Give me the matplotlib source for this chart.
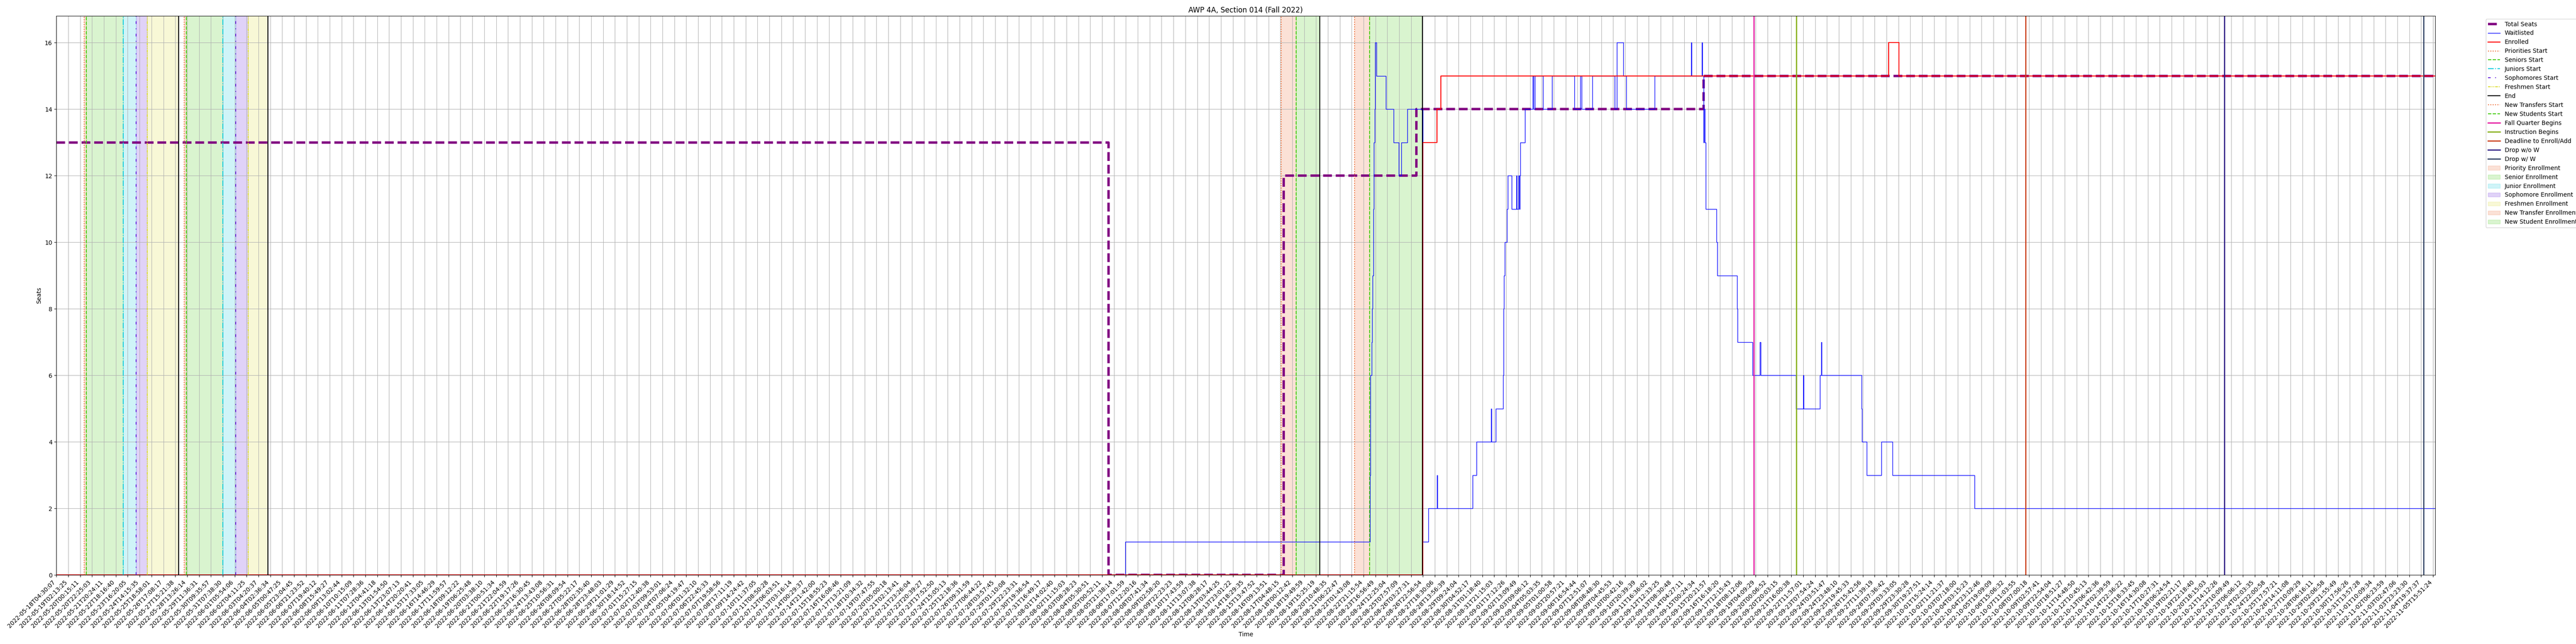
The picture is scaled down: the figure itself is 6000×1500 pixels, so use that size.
import matplotlib
matplotlib.use("Agg")
import matplotlib.pyplot as plt

# Time axis is categorical: one labelled tick every N samples.
# All x values below are in tick units (tick k sits at x = k).
tick_labels = [
    "2022-05-18T04:30:07", "2022-05-19T02:13:25", "2022-05-20T00:15:11", "2022-05-20T22:25:03",
    "2022-05-21T20:24:11", "2022-05-22T18:16:40", "2022-05-23T16:20:05", "2022-05-24T14:15:35",
    "2022-05-25T18:58:01", "2022-05-26T17:08:17", "2022-05-27T15:21:38", "2022-05-28T13:26:14",
    "2022-05-29T11:36:31", "2022-05-30T09:35:57", "2022-05-31T07:38:30", "2022-06-01T05:54:06",
    "2022-06-02T04:11:25", "2022-06-03T04:20:37", "2022-06-04T02:36:34", "2022-06-05T00:47:25",
    "2022-06-05T23:04:45", "2022-06-06T21:23:52", "2022-06-07T19:40:12", "2022-06-08T15:49:27",
    "2022-06-09T13:02:44", "2022-06-10T10:15:09", "2022-06-11T07:28:36", "2022-06-12T04:41:18",
    "2022-06-13T01:54:50", "2022-06-13T23:07:13", "2022-06-14T20:20:41", "2022-06-15T17:33:05",
    "2022-06-16T14:46:29", "2022-06-17T11:59:57", "2022-06-18T09:12:22", "2022-06-19T06:25:48",
    "2022-06-20T03:38:10", "2022-06-21T00:51:34", "2022-06-21T22:04:59", "2022-06-22T19:17:26",
    "2022-06-23T16:30:45", "2022-06-24T13:43:08", "2022-06-25T10:56:31", "2022-06-26T08:09:54",
    "2022-06-27T05:22:17", "2022-06-28T02:35:40", "2022-06-28T23:48:03", "2022-06-29T21:01:29",
    "2022-06-30T18:14:52", "2022-07-01T15:27:15", "2022-07-02T12:40:38", "2022-07-03T09:53:01",
    "2022-07-04T07:06:24", "2022-07-05T04:19:47", "2022-07-06T01:32:10", "2022-07-06T22:45:33",
    "2022-07-07T19:58:56", "2022-07-08T17:11:19", "2022-07-09T14:24:42", "2022-07-10T11:37:05",
    "2022-07-11T08:50:28", "2022-07-12T06:03:51", "2022-07-13T03:16:14", "2022-07-14T00:29:37",
    "2022-07-14T21:42:00", "2022-07-15T18:55:23", "2022-07-16T16:08:46", "2022-07-17T13:21:09",
    "2022-07-18T10:34:32", "2022-07-19T07:47:55", "2022-07-20T05:00:18", "2022-07-21T02:13:41",
    "2022-07-21T23:26:04", "2022-07-22T20:39:27", "2022-07-23T17:52:50", "2022-07-24T15:05:13",
    "2022-07-25T12:18:36", "2022-07-26T09:31:59", "2022-07-27T06:44:22", "2022-07-28T03:57:45",
    "2022-07-29T01:10:08", "2022-07-29T22:23:31", "2022-07-30T19:36:54", "2022-07-31T16:49:17",
    "2022-08-01T14:02:40", "2022-08-02T11:15:03", "2022-08-03T08:28:23", "2022-08-04T05:30:51",
    "2022-08-05T00:52:11", "2022-08-05T21:38:14", "2022-08-06T17:01:59", "2022-08-07T12:20:16",
    "2022-08-08T07:41:34", "2022-08-09T02:58:20", "2022-08-09T22:23:23", "2022-08-10T17:43:59",
    "2022-08-11T13:07:38", "2022-08-12T08:28:17", "2022-08-13T03:44:25", "2022-08-13T23:01:22",
    "2022-08-14T18:29:35", "2022-08-15T13:47:52", "2022-08-16T09:13:51", "2022-08-17T04:48:15",
    "2022-08-18T00:12:42", "2022-08-18T19:49:59", "2022-08-19T15:25:19", "2022-08-20T10:48:35",
    "2022-08-21T06:22:47", "2022-08-22T01:43:08", "2022-08-22T21:15:54", "2022-08-23T16:56:49",
    "2022-08-24T12:25:04", "2022-08-25T07:57:09", "2022-08-26T03:27:31", "2022-08-26T22:56:54",
    "2022-08-27T18:30:06", "2022-08-28T13:56:39", "2022-08-29T09:24:04", "2022-08-30T04:52:17",
    "2022-08-31T01:18:40", "2022-08-31T21:15:03", "2022-09-01T17:12:26", "2022-09-02T13:09:49",
    "2022-09-03T09:06:12", "2022-09-04T05:03:35", "2022-09-05T01:00:58", "2022-09-05T20:57:21",
    "2022-09-06T16:54:44", "2022-09-07T12:51:07", "2022-09-08T08:48:30", "2022-09-09T04:45:53",
    "2022-09-10T00:42:16", "2022-09-10T20:39:39", "2022-09-11T16:36:02", "2022-09-12T12:33:25",
    "2022-09-13T08:30:48", "2022-09-14T04:27:11", "2022-09-15T00:24:34", "2022-09-15T20:21:57",
    "2022-09-16T16:18:20", "2022-09-17T12:15:43", "2022-09-18T08:12:06", "2022-09-19T04:09:29",
    "2022-09-20T00:06:52", "2022-09-20T20:03:15", "2022-09-21T16:00:38", "2022-09-22T11:57:01",
    "2022-09-23T07:54:24", "2022-09-24T03:51:47", "2022-09-24T23:48:10", "2022-09-25T19:45:33",
    "2022-09-26T15:42:56", "2022-09-27T11:39:19", "2022-09-28T07:36:42", "2022-09-29T03:33:05",
    "2022-09-29T23:30:28", "2022-09-30T19:27:51", "2022-10-01T15:24:14", "2022-10-02T11:21:37",
    "2022-10-03T07:18:00", "2022-10-04T03:15:23", "2022-10-04T23:12:46", "2022-10-05T19:09:09",
    "2022-10-06T15:06:32", "2022-10-07T11:03:55", "2022-10-08T07:00:18", "2022-10-09T02:57:41",
    "2022-10-09T22:54:04", "2022-10-10T18:51:27", "2022-10-11T14:48:50", "2022-10-12T10:45:13",
    "2022-10-13T06:42:36", "2022-10-14T02:39:59", "2022-10-14T22:36:22", "2022-10-15T18:33:45",
    "2022-10-16T14:30:08", "2022-10-17T10:27:31", "2022-10-18T06:24:54", "2022-10-19T02:21:17",
    "2022-10-19T22:18:40", "2022-10-20T18:15:03", "2022-10-21T14:12:26", "2022-10-22T10:09:49",
    "2022-10-23T06:06:12", "2022-10-24T02:03:35", "2022-10-24T22:00:58", "2022-10-25T17:57:21",
    "2022-10-26T14:11:08", "2022-10-27T10:09:29", "2022-10-28T06:16:11", "2022-10-29T02:06:58",
    "2022-10-29T21:55:49", "2022-10-30T17:56:26", "2022-10-31T13:57:28", "2022-11-01T10:09:34",
    "2022-11-02T06:23:59", "2022-11-03T02:47:06", "2022-11-03T23:23:30", "2022-11-04T19:37:37",
    "2022-11-05T15:51:24",
]
x_end = 200.17

seats_x = [0, 88.54, 103.28, 114.44, 138.62]
seats_y = [13, 0, 12, 14, 15]

wait_x = [0, 89.93, 110.53, 110.59, 110.69, 110.73, 110.77, 110.83, 110.88, 110.95, 110.99, 111.10,
          111.88, 112.54, 112.97, 113.17, 113.69, 115.00, 115.45, 116.16, 116.21, 119.17, 119.49,
          120.73, 120.78, 121.12, 121.74, 121.79, 121.83, 121.88, 122.05, 122.15, 122.45, 122.85,
          122.90, 123.05, 123.10, 123.15, 123.20, 123.57, 124.24, 124.30, 124.43, 125.09, 125.85,
          127.73, 128.26, 128.35, 129.27, 131.13, 131.30, 131.87, 132.12, 134.48, 137.55, 137.60,
          138.46, 138.51, 138.60, 138.64, 138.72, 138.80, 139.69, 139.76, 141.42, 141.46, 142.74,
          143.34, 143.41, 146.39, 147.00, 147.04, 148.41, 148.51, 148.55, 151.90, 151.96, 152.35,
          153.57, 154.52, 161.42]
wait_y = [0, 1, 3, 6, 7, 8, 9, 11, 13, 14, 16, 15,
          14, 13, 12, 13, 14, 1, 2, 3, 2, 3, 4,
          5, 4, 5, 6, 8, 9, 10, 11, 12, 11, 12,
          11, 12, 11, 12, 13, 14, 15, 14, 15, 14, 15,
          14, 15, 14, 15, 14, 16, 15, 14, 15, 16, 15,
          16, 15, 13, 14, 13, 11, 10, 9, 8, 7, 6,
          7, 6, 5, 6, 5, 6, 7, 6, 5, 4, 3,
          4, 3, 2]

enrolled_x = [0, 114.99, 116.18, 116.50, 154.17, 155.05]
enrolled_y = [0, 13, 14, 15, 16, 15]

# enrollment pass markers
priorities_start = [2.33, 10.74]
seniors_start = [2.51, 10.94]
juniors_start = [5.61, 14.01]
sophomores_start = [6.70, 15.08]
freshmen_start = [7.64, 16.14]
pass_end = [10.27, 17.79, 106.30, 114.96]
new_transfers_start = [103.07, 109.24]
new_students_start = [104.32, 110.49]

# academic calendar
fall_quarter_begins = 142.84
instruction_begins = 146.41
deadline_add = 165.70
drop_without_w = 182.45
drop_with_w = 199.20

c_priority = "#ee6a32"
c_senior = "#44cc11"
c_junior = "#11ccdd"
c_soph = "#6622dd"
c_fresh = "#dddd33"


def extend(xs, ys):
    return list(xs) + [x_end], list(ys) + [ys[-1]]


fig, ax = plt.subplots(figsize=(60, 15), dpi=100)

ax.plot(*extend(seats_x, seats_y), drawstyle="steps-post", color="purple",
        linestyle="--", linewidth=4, label="Total Seats")
ax.plot(*extend(wait_x, wait_y), drawstyle="steps-post", color="blue",
        linewidth=1, label="Waitlisted")
ax.plot(*extend(enrolled_x, enrolled_y), drawstyle="steps-post", color="red",
        linewidth=1.5, label="Enrolled")


def vlines(xs, label, **kw):
    for i, x in enumerate(xs):
        ax.axvline(x, label=label if i == 0 else None, **kw)


vlines(priorities_start, "Priorities Start", color=c_priority, linestyle=":", linewidth=1.5)
vlines(seniors_start, "Seniors Start", color=c_senior, linestyle="--", linewidth=1.5)
vlines(juniors_start, "Juniors Start", color=c_junior, linestyle="-.", linewidth=1.5)
vlines(sophomores_start, "Sophomores Start", color=c_soph, linestyle=(0, (3, 5, 1, 5)), linewidth=1.5)
vlines(freshmen_start, "Freshmen Start", color=c_fresh, linestyle=(0, (3, 1, 1, 1, 1, 1)), linewidth=1.5)
vlines(pass_end, "End", color="black", linestyle="-", linewidth=1.5)
vlines(new_transfers_start, "New Transfers Start", color=c_priority, linestyle=":", linewidth=1.5)
vlines(new_students_start, "New Students Start", color=c_senior, linestyle="--", linewidth=1.5)
ax.axvline(fall_quarter_begins, color="#e619a0", linewidth=2, label="Fall Quarter Begins")
ax.axvline(instruction_begins, color="#86b01a", linewidth=2, label="Instruction Begins")
ax.axvline(deadline_add, color="#cc4422", linewidth=2, label="Deadline to Enroll/Add")
ax.axvline(drop_without_w, color="#332288", linewidth=2, label="Drop w/o W")
ax.axvline(drop_with_w, color="#334466", linewidth=2, label="Drop w/ W")


def spans(starts, ends, color, label):
    for i, (a, b) in enumerate(zip(starts, ends)):
        ax.axvspan(a, b, color=color, alpha=0.2, zorder=0,
                   label=label if i == 0 else None)


spans(priorities_start, seniors_start, c_priority, "Priority Enrollment")
spans(seniors_start, juniors_start, c_senior, "Senior Enrollment")
spans(juniors_start, sophomores_start, c_junior, "Junior Enrollment")
spans(sophomores_start, freshmen_start, c_soph, "Sophomore Enrollment")
spans(freshmen_start, pass_end[:2], c_fresh, "Freshmen Enrollment")
spans(new_transfers_start, new_students_start, c_priority, "New Transfer Enrollment")
spans(new_students_start, pass_end[2:], c_senior, "New Student Enrollment")

ax.set_xticks(range(len(tick_labels)))
ax.set_xticklabels(tick_labels, rotation=45, ha="right")
ax.set_xlim(0, x_end)
ax.set_ylim(0, 16.8)
ax.grid(True)
ax.set_title("AWP 4A, Section 014 (Fall 2022)")
ax.set_xlabel("Time")
ax.set_ylabel("Seats")
ax.legend(loc="upper left", bbox_to_anchor=(1.02, 1))

fig.subplots_adjust(left=0.0219, right=0.9453, bottom=0.1073, top=0.9753)
fig.savefig("out.png", dpi=100)
